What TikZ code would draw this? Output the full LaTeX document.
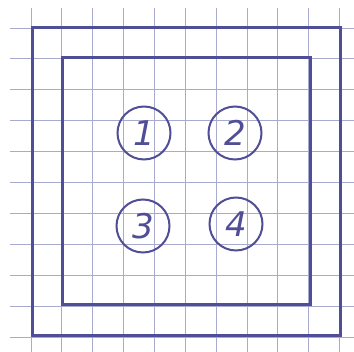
\documentclass[tikz,border=0pt]{standalone}
\usepackage{fontspec}
\setmainfont{DejaVu Sans}
\definecolor{ink}{RGB}{80,78,150}
\definecolor{gridc}{RGB}{168,170,206}
\begin{document}
\begin{tikzpicture}[x=1pt,y=-1pt,
  gridline/.style={draw=gridc,line width=0.8pt},
  frame/.style={draw=ink,line width=3pt,line join=miter},
  num/.style={circle,draw=ink,line width=2pt,minimum size=53pt,inner sep=0pt,
    text=ink,font=\fontsize{34}{34}\selectfont\itshape}]
\useasboundingbox[fill=white] (0,0) rectangle (354,352);
\foreach \i in {0,...,10}{
  \draw[gridline] (31+30.85*\i,8) -- (31+30.85*\i,352);
  \draw[gridline] (10,28+30.9*\i) -- (354,28+30.9*\i);
}
\draw[frame] (32,28) rectangle (340,336);
\draw[frame] (62,58) rectangle (310,305);
\node[num] (n1) at (144,133) {1};
\node[num] (n2) at (235,133) {2};
\node[num] (n3) at (143,226) {3};
\node[num] (n4) at (236,224) {4};
\end{tikzpicture}
\end{document}
